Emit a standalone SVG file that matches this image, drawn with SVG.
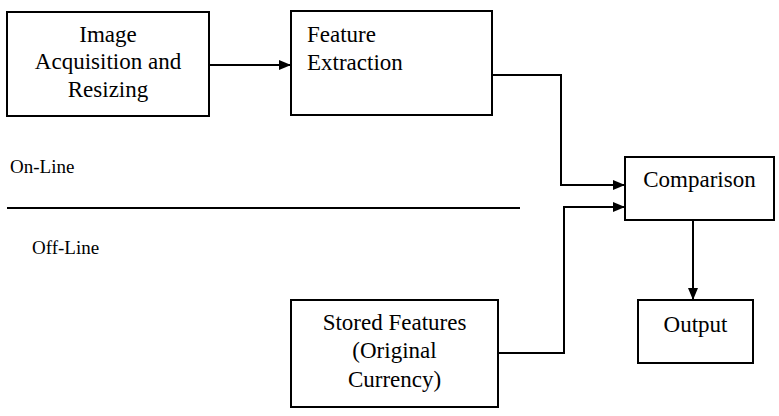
<svg xmlns="http://www.w3.org/2000/svg" width="779" height="416" viewBox="0 0 779 416">
<style>
.box{fill:#fff;stroke:#000;stroke-width:2}
.lbl{font-family:"Liberation Serif","Times New Roman",serif;font-size:23px;fill:#000}
.side{font-family:"Liberation Serif","Times New Roman",serif;font-size:19px;fill:#000}
.mid{text-anchor:middle}
.ln{fill:none;stroke:#000;stroke-width:2}
</style>
<defs>
<marker id="ah" markerUnits="userSpaceOnUse" markerWidth="12" markerHeight="10" refX="12" refY="5" orient="auto">
<path d="M0,0 L12,5 L0,10 z" fill="#000"/>
</marker>
</defs>
<rect width="779" height="416" fill="#fff"/>
<g id="acq">
<rect class="box" x="7" y="12" width="202" height="104"/>
<text class="lbl mid" x="108" y="42">Image</text>
<text class="lbl mid" x="108" y="69">Acquisition and</text>
<text class="lbl mid" x="108" y="97">Resizing</text>
</g>
<g id="feat">
<rect class="box" x="291" y="11" width="201" height="104"/>
<text class="lbl" x="307" y="42">Feature</text>
<text class="lbl" x="307" y="70">Extraction</text>
</g>
<g id="comp">
<rect class="box" x="625" y="157" width="149" height="63"/>
<text class="lbl mid" x="699.5" y="187">Comparison</text>
</g>
<g id="stored">
<rect class="box" x="291" y="300" width="207" height="107"/>
<text class="lbl mid" x="394.5" y="330">Stored Features</text>
<text class="lbl mid" x="394.5" y="358">(Original</text>
<text class="lbl mid" x="394.5" y="387">Currency)</text>
</g>
<g id="out">
<rect class="box" x="638" y="300" width="115" height="63"/>
<text class="lbl mid" x="695.5" y="332">Output</text>
</g>
<g id="labels">
<text class="side" x="10" y="173">On-Line</text>
<text class="side" x="32" y="254">Off-Line</text>
<line class="ln" x1="7" y1="208" x2="520" y2="208"/>
</g>
<g id="connectors">
<line class="ln" x1="209" y1="65" x2="291" y2="65" marker-end="url(#ah)"/>
<polyline class="ln" points="492,75 561,75 561,185 625,185" marker-end="url(#ah)"/>
<polyline class="ln" points="498,353 564,353 564,207 625,207" marker-end="url(#ah)"/>
<line class="ln" x1="693" y1="220" x2="693" y2="300" marker-end="url(#ah)"/>
</g>
</svg>
